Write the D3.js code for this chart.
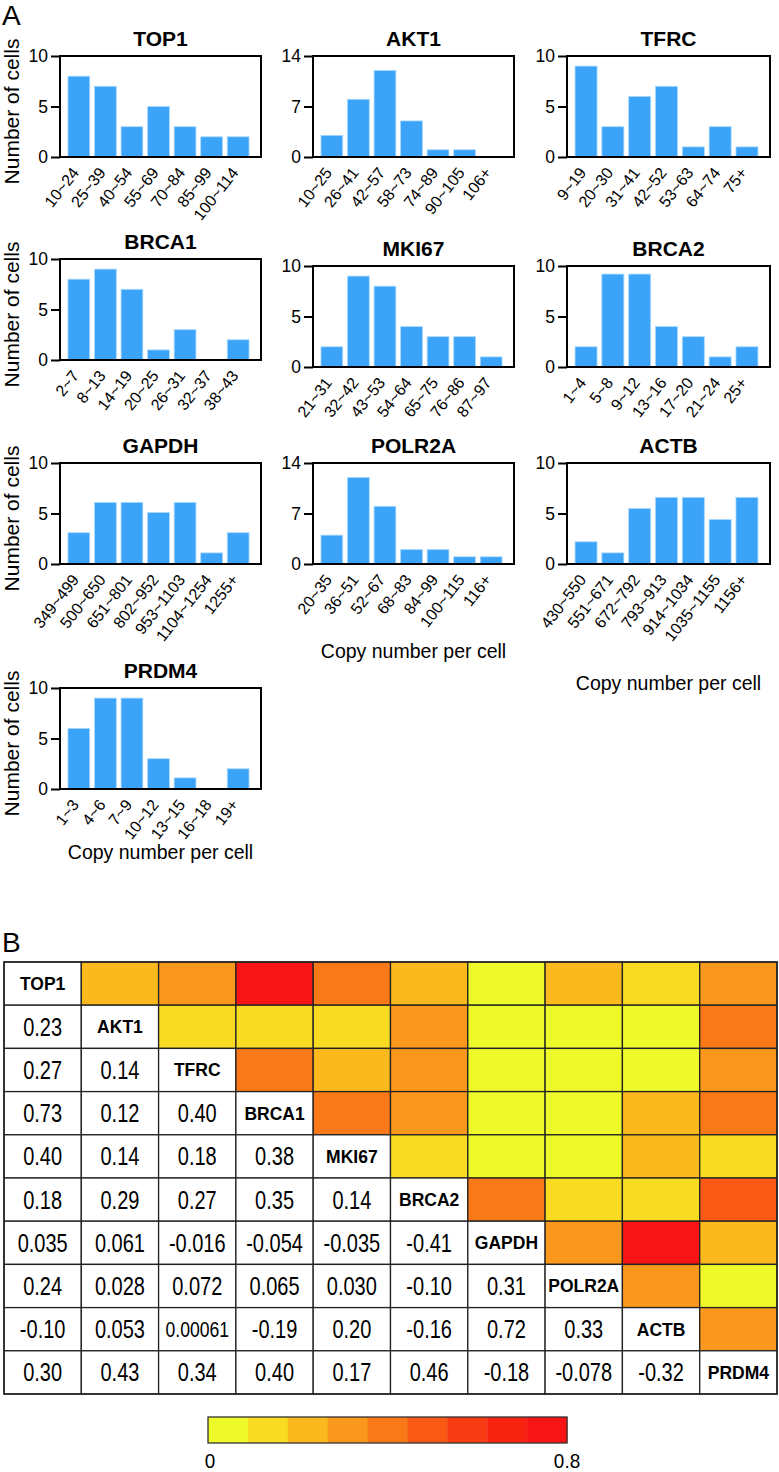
<!DOCTYPE html>
<html>
<head>
<meta charset="utf-8">
<script src="https://cdn.jsdelivr.net/npm/d3@7"></script>
<style>
  body { margin: 0; background: #fff; }
  svg { display: block; font-family: "Liberation Sans", Arial, Helvetica, sans-serif; }
</style>
</head>
<body>
<svg id="fig" width="779" height="1472"></svg>
<script>
// ---- data: panel A histograms ----
const histGenes = ['TOP1', 'AKT1', 'TFRC', 'BRCA1', 'MKI67', 'BRCA2', 'GAPDH', 'POLR2A', 'ACTB', 'PRDM4'];
const histBins = [
  ['10~24', '25~39', '40~54', '55~69', '70~84', '85~99', '100~114'],
  ['10~25', '26~41', '42~57', '58~73', '74~89', '90~105', '106+'],
  ['9~19', '20~30', '31~41', '42~52', '53~63', '64~74', '75+'],
  ['2~7', '8~13', '14~19', '20~25', '26~31', '32~37', '38~43'],
  ['21~31', '32~42', '43~53', '54~64', '65~75', '76~86', '87~97'],
  ['1~4', '5~8', '9~12', '13~16', '17~20', '21~24', '25+'],
  ['349~499', '500~650', '651~801', '802~952', '953~1103', '1104~1254', '1255+'],
  ['20~35', '36~51', '52~67', '68~83', '84~99', '100~115', '116+'],
  ['430~550', '551~671', '672~792', '793~913', '914~1034', '1035~1155', '1156+'],
  ['1~3', '4~6', '7~9', '10~12', '13~15', '16~18', '19+']
];
const histCounts = [
  [8, 7, 3, 5, 3, 2, 2],
  [3, 8, 12, 5, 1, 1, 0],
  [9, 3, 6, 7, 1, 3, 1],
  [8, 9, 7, 1, 3, 0, 2],
  [2, 9, 8, 4, 3, 3, 1],
  [2, 9.2, 9.2, 4, 3, 1, 2],
  [3.1, 6.1, 6.1, 5.1, 6.1, 1.1, 3.1],
  [4, 12, 8, 2, 2, 1, 1],
  [2.2, 1.1, 5.5, 6.6, 6.6, 4.4, 6.6],
  [6, 9, 9, 3, 1.1, 0, 2]
];
const histYMax = [10, 14, 10, 10, 10, 10, 10, 14, 10, 10];
const histYTicks = [[0, 5, 10], [0, 7, 14]];
const yLabelText = 'Number of cells';
const xLabelText = 'Copy number per cell';

// ---- data: panel B correlation matrix (lower triangle, row i has i entries) ----
const corrGenes = ['TOP1', 'AKT1', 'TFRC', 'BRCA1', 'MKI67', 'BRCA2', 'GAPDH', 'POLR2A', 'ACTB', 'PRDM4'];
const corrLower = [
  [],
  ['0.23'],
  ['0.27', '0.14'],
  ['0.73', '0.12', '0.40'],
  ['0.40', '0.14', '0.18', '0.38'],
  ['0.18', '0.29', '0.27', '0.35', '0.14'],
  ['0.035', '0.061', '-0.016', '-0.054', '-0.035', '-0.41'],
  ['0.24', '0.028', '0.072', '0.065', '0.030', '-0.10', '0.31'],
  ['-0.10', '0.053', '0.00061', '-0.19', '0.20', '-0.16', '0.72', '0.33'],
  ['0.30', '0.43', '0.34', '0.40', '0.17', '0.46', '-0.18', '-0.078', '-0.32']
];
const colorSteps = ['#eef92a', '#f9dc21', '#fbb91e', '#f9981c', '#f97818', '#f85a16', '#f83c14', '#f82412', '#f81414'];
const colorDomain = [0, 0.8];
const colorTickLabels = ['0', '0.8'];

// ---- layout ----
const W = 779, H = 1472;
const colX = [60, 313, 567];
const colW = [201, 201, 203];
const panelTop = [56, 56, 56, 259, 266, 266, 463, 463, 463, 688];
const panelH = 101;
const xLabelY = { 7: 658, 8: 690, 9: 859 };
const barColor = '#3ba4f8';
const narrow = 0.8;

const svg = d3.select('#fig');
svg.append('rect').attr('width', W).attr('height', H).attr('fill', '#fff');

svg.append('text').attr('x', 2).attr('y', 25).attr('font-size', 28).text('A');

histGenes.forEach((gene, i) => {
  const col = i % 3;
  const x0 = colX[col], w = colW[col];
  const y0 = panelTop[i];
  const g = svg.append('g').attr('transform', `translate(${x0},${y0})`);

  const x = d3.scaleBand().domain(histBins[i]).range([0, w - 4]).paddingInner(0.18).paddingOuter(0.3);
  const y = d3.scaleLinear().domain([0, histYMax[i]]).range([panelH, 0]);

  g.selectAll('rect.bar')
    .data(histCounts[i])
    .enter().append('rect')
    .attr('class', 'bar')
    .attr('x', (d, k) => x(histBins[i][k]))
    .attr('width', x.bandwidth())
    .attr('y', d => y(d))
    .attr('height', d => panelH - y(d))
    .attr('fill', barColor)
    .attr('stroke', '#a9d8ff')
    .attr('stroke-width', d => d > 0 ? 0.8 : 0);

  // frame
  g.append('rect').attr('width', w).attr('height', panelH)
    .attr('fill', 'none').attr('stroke', '#000').attr('stroke-width', 2);

  // y axis
  const yAxis = d3.axisLeft(y)
    .tickValues(histYMax[i] === 14 ? histYTicks[1] : histYTicks[0])
    .tickSize(9).tickPadding(3);
  const ya = g.append('g').call(yAxis);
  ya.select('.domain').remove();
  ya.selectAll('line').attr('stroke', '#000').attr('stroke-width', 2);
  ya.selectAll('text').attr('font-size', 17.5).attr('fill', '#000')
    .attr('font-family', '"Liberation Sans", Arial, sans-serif');

  // x tick labels, rotated
  const xa = g.append('g').attr('transform', `translate(0,${panelH})`)
    .call(d3.axisBottom(x).tickSize(0).tickPadding(0));
  xa.select('.domain').remove();
  xa.selectAll('text')
    .attr('font-size', 16).attr('fill', '#000')
    .attr('font-family', '"Liberation Sans", Arial, sans-serif')
    .attr('text-anchor', 'end')
    .attr('dy', '0')
    .attr('transform', 'translate(1,16) rotate(-52)');

  // title
  svg.append('text')
    .attr('x', x0 + w / 2).attr('y', y0 - 10)
    .attr('text-anchor', 'middle').attr('font-size', 21).attr('font-weight', 'bold')
    .text(gene);

  if (col === 0) {
    svg.append('text')
      .attr('transform', `translate(19,${y0 + panelH / 2 + 5}) rotate(-90)`)
      .attr('text-anchor', 'middle').attr('font-size', 21)
      .text(yLabelText);
  }
  if (xLabelY[i] !== undefined) {
    svg.append('text')
      .attr('x', x0 + w / 2).attr('y', xLabelY[i])
      .attr('text-anchor', 'middle').attr('font-size', 19.5)
      .text(xLabelText);
  }
});

// ---- panel B ----
svg.append('text').attr('x', 2).attr('y', 952).attr('font-size', 28).text('B');

const tLeft = 4, tRight = 777, tTop = 962, tBottom = 1394;
const cx = d3.scaleBand().domain(corrGenes).range([tLeft, tRight]);
const cy = d3.scaleBand().domain(corrGenes).range([tTop, tBottom]);
const color = d3.scaleQuantize().domain(colorDomain).range(colorSteps);

const cells = [];
corrGenes.forEach((ri, r) => {
  corrGenes.forEach((cj, c) => {
    let label = null, fill = '#fff', kind = 'blank';
    if (r === c) { kind = 'name'; label = ri; }
    else if (c < r) { kind = 'value'; label = corrLower[r][c]; }
    else { kind = 'color'; fill = color(Math.abs(+corrLower[c][r])); }
    cells.push({ r: ri, c: cj, kind, label, fill });
  });
});

const hm = svg.append('g');
hm.selectAll('rect.cell')
  .data(cells)
  .enter().append('rect')
  .attr('class', 'cell')
  .attr('x', d => cx(d.c)).attr('y', d => cy(d.r))
  .attr('width', cx.bandwidth()).attr('height', cy.bandwidth())
  .attr('fill', d => d.fill)
  .attr('stroke', '#222').attr('stroke-width', 1.3);

hm.selectAll('text.cell')
  .data(cells.filter(d => d.kind !== 'color'))
  .enter().append('text')
  .attr('class', 'cell')
  .attr('transform', d => {
    const tx = cx(d.c) + cx.bandwidth() / 2, ty = cy(d.r) + cy.bandwidth() / 2;
    return d.kind === 'value' ? `translate(${tx},${ty}) scale(${narrow},1)` : `translate(${tx},${ty})`;
  })
  .attr('text-anchor', 'middle')
  .attr('dy', '0.36em')
  .attr('font-size', d => d.kind === 'name' ? 17.5 : (d.label.length > 6 ? 22 : 25))
  .attr('font-weight', d => d.kind === 'name' ? 'bold' : 'normal')
  .text(d => d.label);

hm.append('rect').attr('x', tLeft).attr('y', tTop)
  .attr('width', tRight - tLeft).attr('height', tBottom - tTop)
  .attr('fill', 'none').attr('stroke', '#222').attr('stroke-width', 1.5);

// colour bar
const cbX = d3.scaleLinear().domain(colorDomain).range([208, 567]);
const cbTop = 1417, cbH = 26;
const stepW = (colorDomain[1] - colorDomain[0]) / colorSteps.length;
svg.append('g').selectAll('rect')
  .data(colorSteps)
  .enter().append('rect')
  .attr('x', (d, k) => cbX(k * stepW))
  .attr('width', cbX(stepW) - cbX(0) + 0.5)
  .attr('y', cbTop).attr('height', cbH)
  .attr('fill', d => d);
svg.append('rect').attr('x', cbX(0)).attr('y', cbTop)
  .attr('width', cbX(colorDomain[1]) - cbX(0)).attr('height', cbH)
  .attr('fill', 'none').attr('stroke', '#333').attr('stroke-width', 1.3);
svg.append('g').selectAll('text')
  .data(colorDomain)
  .enter().append('text')
  .attr('transform', (d, k) => `translate(${cbX(d) + (k ? 0 : 2)},1468) scale(0.9,1)`)
  .attr('text-anchor', 'middle').attr('font-size', 21)
  .text((d, k) => colorTickLabels[k]);
</script>
</body>
</html>
